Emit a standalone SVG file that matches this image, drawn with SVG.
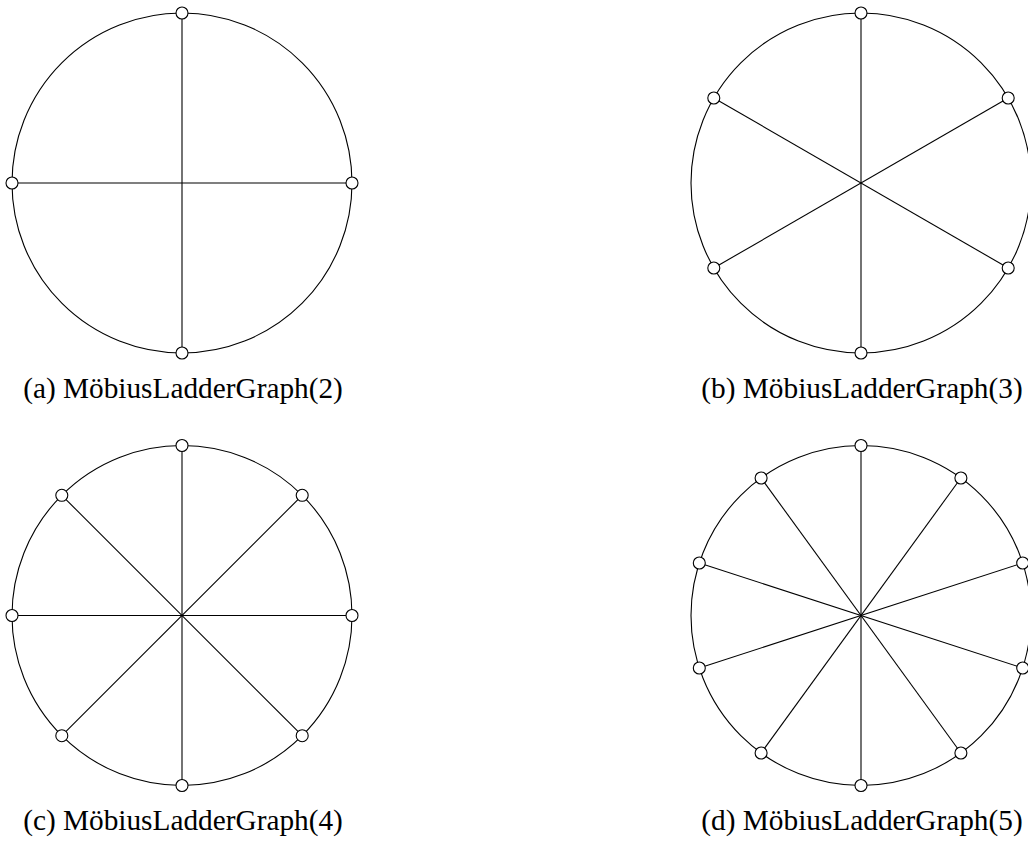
<svg xmlns="http://www.w3.org/2000/svg" width="1028" height="844" viewBox="0 0 1028 844">
<style>
.rim{fill:none;stroke:#000;stroke-width:1.1}
.edge{stroke:#000;stroke-width:1.1;fill:none}
.node{fill:#fff;stroke:#000;stroke-width:1.1}
.cap{font-family:"Liberation Serif","Times New Roman",serif;font-size:29.3px;fill:#000;text-anchor:middle}
</style>
<rect width="1028" height="844" fill="#fff"/>
<g id="connectors">
<circle class="rim" cx="182" cy="183" r="170"/>
<line class="edge" x1="182" y1="13" x2="182" y2="353"/>
<line class="edge" x1="12" y1="183" x2="352" y2="183"/>
<circle class="rim" cx="861" cy="183" r="170"/>
<line class="edge" x1="861" y1="13" x2="861" y2="353"/>
<line class="edge" x1="1008.2" y1="98" x2="713.8" y2="268"/>
<line class="edge" x1="1008.2" y1="268" x2="713.8" y2="98"/>
<circle class="rim" cx="182" cy="615.5" r="170"/>
<line class="edge" x1="182" y1="445.5" x2="182" y2="785.5"/>
<line class="edge" x1="12" y1="615.5" x2="352" y2="615.5"/>
<line class="edge" x1="302.2" y1="495.3" x2="61.8" y2="735.7"/>
<line class="edge" x1="61.8" y1="495.3" x2="302.2" y2="735.7"/>
<circle class="rim" cx="861" cy="615.5" r="170"/>
<line class="edge" x1="861" y1="445.5" x2="861" y2="785.5"/>
<line class="edge" x1="960.9" y1="478" x2="761.1" y2="753"/>
<line class="edge" x1="1022.7" y1="563" x2="699.3" y2="668"/>
<line class="edge" x1="1022.7" y1="668" x2="699.3" y2="563"/>
<line class="edge" x1="960.9" y1="753" x2="761.1" y2="478"/>
</g>
<g id="graph-a">
<circle class="node" cx="182" cy="13" r="6"/>
<circle class="node" cx="352" cy="183" r="6"/>
<circle class="node" cx="182" cy="353" r="6"/>
<circle class="node" cx="12" cy="183" r="6"/>
<text class="cap" x="183" y="398">(a) MöbiusLadderGraph(2)</text>
</g>
<g id="graph-b">
<circle class="node" cx="861" cy="13" r="6"/>
<circle class="node" cx="1008.2" cy="98" r="6"/>
<circle class="node" cx="1008.2" cy="268" r="6"/>
<circle class="node" cx="861" cy="353" r="6"/>
<circle class="node" cx="713.8" cy="268" r="6"/>
<circle class="node" cx="713.8" cy="98" r="6"/>
<text class="cap" x="862" y="398">(b) MöbiusLadderGraph(3)</text>
</g>
<g id="graph-c">
<circle class="node" cx="182" cy="445.5" r="6"/>
<circle class="node" cx="302.2" cy="495.3" r="6"/>
<circle class="node" cx="352" cy="615.5" r="6"/>
<circle class="node" cx="302.2" cy="735.7" r="6"/>
<circle class="node" cx="182" cy="785.5" r="6"/>
<circle class="node" cx="61.8" cy="735.7" r="6"/>
<circle class="node" cx="12" cy="615.5" r="6"/>
<circle class="node" cx="61.8" cy="495.3" r="6"/>
<text class="cap" x="183" y="830">(c) MöbiusLadderGraph(4)</text>
</g>
<g id="graph-d">
<circle class="node" cx="861" cy="445.5" r="6"/>
<circle class="node" cx="960.9" cy="478" r="6"/>
<circle class="node" cx="1022.7" cy="563" r="6"/>
<circle class="node" cx="1022.7" cy="668" r="6"/>
<circle class="node" cx="960.9" cy="753" r="6"/>
<circle class="node" cx="861" cy="785.5" r="6"/>
<circle class="node" cx="761.1" cy="753" r="6"/>
<circle class="node" cx="699.3" cy="668" r="6"/>
<circle class="node" cx="699.3" cy="563" r="6"/>
<circle class="node" cx="761.1" cy="478" r="6"/>
<text class="cap" x="862" y="830">(d) MöbiusLadderGraph(5)</text>
</g>
</svg>
